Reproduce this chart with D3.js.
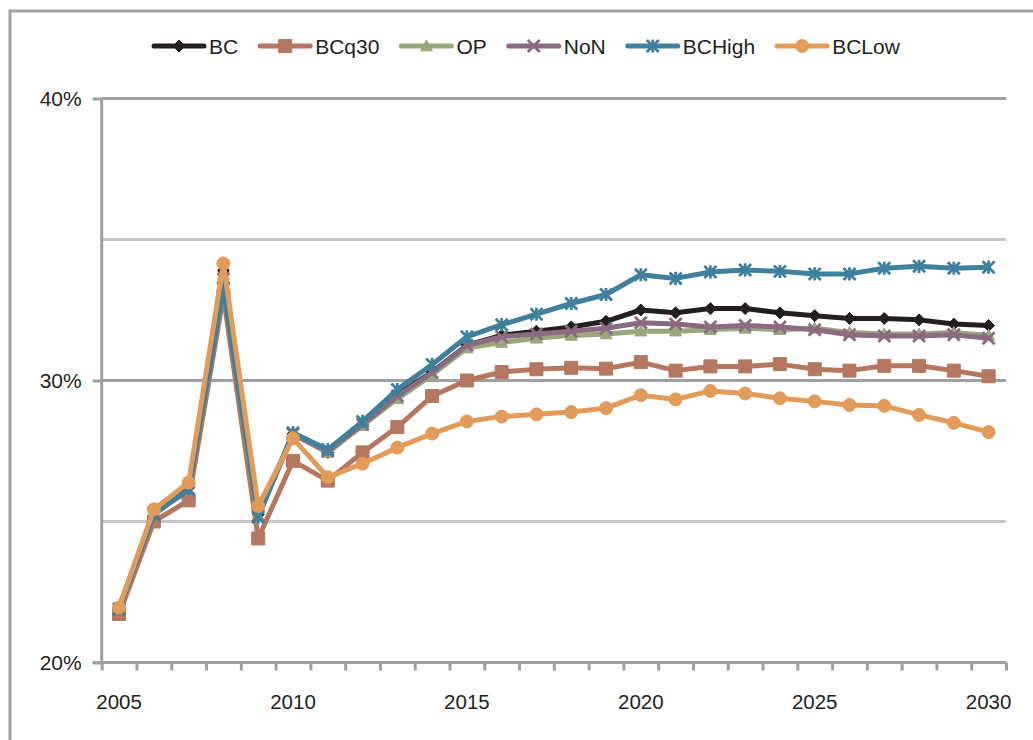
<!DOCTYPE html>
<html>
<head>
<meta charset="utf-8">
<script src="https://cdn.jsdelivr.net/npm/d3@7"></script>
<style>
  html, body { margin: 0; padding: 0; background: #fff; }
  svg { display: block; font-family: "Liberation Sans", Arial, sans-serif; }
</style>
</head>
<body>
<svg id="chart" width="1033" height="740"></svg>
<script>
// Share by scenario, 2005–2030 (percent)
const years = d3.range(2005, 2031);
const seriesNames = ["BC", "BCq30", "OP", "NoN", "BCHigh", "BCLow"];
const xTickLabels = [2005, 2010, 2015, 2020, 2025, 2030];
const yMajorTicks = [0.20, 0.30, 0.40];
const yMinorTicks = [0.25, 0.35];

const BC     = [21.95, 25.35, 26.2, 33.9, 25.25, 28.1, 27.45, 28.45, 29.5, 30.3, 31.25, 31.6, 31.75, 31.9, 32.1, 32.5, 32.4, 32.55, 32.55, 32.4, 32.3, 32.2, 32.2, 32.15, 32.0, 31.95];
const BCq30  = [21.72, 25.0, 25.75, 33.0, 24.4, 27.15, 26.45, 27.45, 28.35, 29.45, 30.0, 30.3, 30.4, 30.45, 30.42, 30.65, 30.35, 30.5, 30.5, 30.58, 30.4, 30.35, 30.52, 30.52, 30.35, 30.15];
const OP     = [21.9, 25.3, 26.1, 33.75, 25.2, 28.1, 27.45, 28.4, 29.35, 30.2, 31.15, 31.35, 31.5, 31.6, 31.65, 31.75, 31.75, 31.8, 31.85, 31.8, 31.85, 31.7, 31.65, 31.65, 31.7, 31.6];
const NoN    = [21.9, 25.3, 26.1, 33.6, 25.2, 28.1, 27.5, 28.45, 29.45, 30.28, 31.25, 31.55, 31.65, 31.75, 31.85, 32.05, 32.0, 31.9, 31.95, 31.9, 31.8, 31.62, 31.58, 31.58, 31.62, 31.5];
const BCHigh = [21.9, 25.25, 26.15, 33.3, 25.15, 28.15, 27.55, 28.55, 29.68, 30.57, 31.55, 31.98, 32.35, 32.73, 33.05, 33.75, 33.62, 33.85, 33.92, 33.87, 33.78, 33.78, 33.98, 34.05, 33.98, 34.02];
const BCLow  = [21.95, 25.43, 26.38, 34.15, 25.55, 27.95, 26.57, 27.05, 27.62, 28.12, 28.55, 28.72, 28.8, 28.88, 29.02, 29.48, 29.33, 29.63, 29.54, 29.37, 29.26, 29.13, 29.1, 28.78, 28.5, 28.17];

const seriesValues = [BC, BCq30, OP, NoN, BCHigh, BCLow];
const colors  = ["#231f20", "#b5775f", "#9aa67c", "#8b6a82", "#3f819d", "#e29b58"];
const markers = ["diamond", "square", "triangle", "cross", "star", "circle"];

const svg = d3.select("#chart");
const axisGray = "#9fa0a3";
const minorGray = "#c6c6ca";

// Outer frame
svg.append("rect")
  .attr("x", 10).attr("y", 11).attr("width", 1100).attr("height", 800)
  .attr("fill", "none").attr("stroke", "#a2a2a2").attr("stroke-width", 3);

const plotLeft = 101.7, plotRight = 1006, plotTop = 98.5, plotBottom = 662.5;

// Category axis: each year occupies one band, points at band centres
const x = d3.scaleLinear().domain([2004.5, 2030.5]).range([plotLeft, plotRight]);
const y = d3.scaleLinear().domain([0.20, 0.40]).range([plotBottom, plotTop]);

// Minor gridlines
svg.append("g").selectAll("line").data(yMinorTicks).join("line")
  .attr("x1", plotLeft).attr("x2", plotRight)
  .attr("y1", d => y(d)).attr("y2", d => y(d))
  .attr("stroke", minorGray).attr("stroke-width", 3);

// Major gridlines
svg.append("g").selectAll("line").data(yMajorTicks.filter(d => d > 0.2)).join("line")
  .attr("x1", plotLeft).attr("x2", plotRight)
  .attr("y1", d => y(d)).attr("y2", d => y(d))
  .attr("stroke", axisGray).attr("stroke-width", 3);

// Y axis
const yAxis = d3.axisLeft(y).tickValues(yMajorTicks).tickFormat(d3.format(".0%"))
  .tickSize(9).tickPadding(11);
const gy = svg.append("g").attr("transform", `translate(${plotLeft},0)`).call(yAxis);
gy.select(".domain").attr("stroke", axisGray).attr("stroke-width", 3)
  .attr("d", `M0,${plotTop}V${plotBottom}`);
gy.selectAll(".tick line").attr("stroke", axisGray).attr("stroke-width", 3);
gy.selectAll(".tick text").attr("fill", "#231f20")
  .style("font-size", "21px").style("font-family", "'Liberation Sans', Arial, sans-serif");

// X axis: tick marks on band boundaries, labels every fifth year
const boundaries = d3.range(2004.5, 2031, 1);
const xAxis = d3.axisBottom(x).tickValues(boundaries).tickFormat("").tickSize(8);
const gx = svg.append("g").attr("transform", `translate(0,${plotBottom})`).call(xAxis);
gx.select(".domain").attr("stroke", axisGray).attr("stroke-width", 3)
  .attr("d", `M${plotLeft - 9},0H${plotRight}`);
gx.selectAll(".tick line").attr("stroke", axisGray).attr("stroke-width", 3);

svg.append("g").selectAll("text").data(xTickLabels).join("text")
  .attr("x", d => x(d)).attr("y", plotBottom + 46)
  .attr("text-anchor", "middle").attr("fill", "#231f20")
  .style("font-size", "20.5px")
  .text(d => d);

// Marker shapes
function markerPath(type, s) {
  const h = s / 2;
  switch (type) {
    case "diamond": return `M0,${-h}L${h},0L0,${h}L${-h},0Z`;
    case "square": return `M${-h},${-h}H${h}V${h}H${-h}Z`;
    case "triangle": return `M0,${-h}L${h},${h * 0.8}H${-h}Z`;
    case "cross": return `M${-h},${-h}L${h},${h}M${h},${-h}L${-h},${h}`;
    case "star": return `M${-h},${-h}L${h},${h}M${h},${-h}L${-h},${h}M0,${-h * 1.1}V${h * 1.1}`;
    case "circle": return d3.symbol(d3.symbolCircle, Math.PI * h * h)();
  }
}
const markerSize = { diamond: 12, square: 13, triangle: 12, cross: 12, star: 12, circle: 13 };

function drawMarker(sel, type, color) {
  const open = type === "cross" || type === "star";
  sel.attr("d", markerPath(type, markerSize[type]))
    .attr("fill", open ? "none" : color)
    .attr("stroke", color)
    .attr("stroke-width", open ? 2.8 : 1)
    .attr("stroke-linejoin", "round");
}

const line = d3.line().x((d, i) => x(years[i])).y(d => y(d / 100));

// Series: line then markers, in legend order
seriesNames.forEach((name, k) => {
  const g = svg.append("g").attr("class", "series-" + name);
  g.append("path").datum(seriesValues[k])
    .attr("d", line).attr("fill", "none")
    .attr("stroke", colors[k]).attr("stroke-width", 5)
    .attr("stroke-linejoin", "round").attr("stroke-linecap", "round");
  g.selectAll("path.m").data(seriesValues[k]).join("path")
    .attr("class", "m")
    .attr("transform", (d, i) => `translate(${x(years[i])},${y(d / 100)})`)
    .call(drawMarker, markers[k], colors[k]);
});

// Legend: sample line with marker, then label, laid out left to right
const legend = svg.append("g").attr("class", "legend");
const legendY = 46;
const sampleLen = 50;
let cursor = 154;
seriesNames.forEach((name, k) => {
  const item = legend.append("g");
  item.append("line")
    .attr("x1", cursor).attr("x2", cursor + sampleLen)
    .attr("y1", legendY).attr("y2", legendY)
    .attr("stroke", colors[k]).attr("stroke-width", 5).attr("stroke-linecap", "round");
  item.append("path")
    .attr("transform", `translate(${cursor + sampleLen / 2},${legendY})`)
    .call(drawMarker, markers[k], colors[k]);
  const t = item.append("text")
    .attr("x", cursor + sampleLen + 5).attr("y", legendY + 7.5)
    .attr("fill", "#231f20")
    .style("font-size", "21px")
    .text(name);
  cursor += sampleLen + 5 + t.node().getComputedTextLength() + 22;
});
</script>
</body>
</html>
